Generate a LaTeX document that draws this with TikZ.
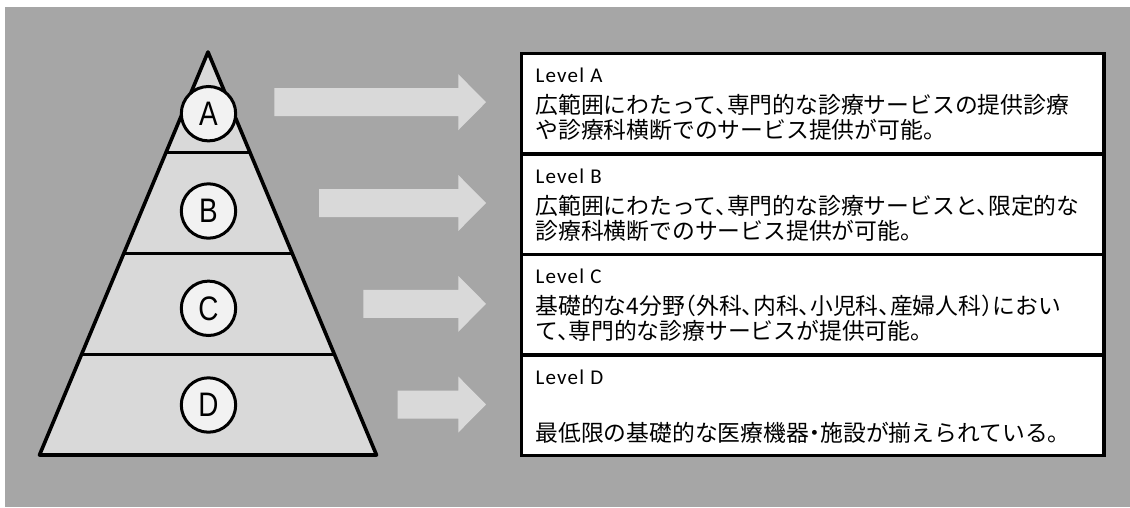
\documentclass[tikz,border=0pt]{standalone}
\usepackage{fontspec}
\setmainfont{Carlito}
\newfontfamily\jpfont[RawFeature=+halt]{Noto Sans CJK JP}
\newfontfamily\lvfont[LetterSpace=6]{Carlito}
\newfontfamily\circfont{Liberation Sans}
\usetikzlibrary{calc}
\definecolor{bggray}{HTML}{A6A6A6}
\definecolor{pyrfill}{HTML}{D9D9D9}
\definecolor{circfill}{HTML}{F2F2F2}
\definecolor{arrowfill}{HTML}{D9D9D9}
\newcommand{\blockarrow}[2]{%
  \fill[arrowfill] (#1,#2-14) -- (458.3,#2-14) -- (458.3,#2-28) -- (486,#2)
    -- (458.3,#2+28) -- (458.3,#2+14) -- (#1,#2+14) -- cycle;}
\begin{document}
\begin{tikzpicture}[x=1pt,y=-1pt,
  lvcirc/.style={circle, draw=black, fill=circfill, line width=3pt,
    minimum size=54.4pt, inner sep=0pt, outer sep=0pt,
    font=\circfont\fontsize{34}{34}\selectfont},
  levelbox/.style={draw=black, fill=white, line width=3.5pt, rectangle,
    minimum width=582.7pt, minimum height=100.5pt, inner sep=0pt,
    outer sep=0pt, anchor=north west},
  lvtext/.style={anchor=base west, inner sep=0pt, font=\lvfont\fontsize{21}{24}\selectfont},
  jptext/.style={anchor=base west, inner sep=0pt, font=\jpfont\fontsize{22.8}{25}\selectfont}]
\useasboundingbox (0,0) rectangle (1130,507);
\fill[white] (0,0) rectangle (1130,507);
\fill[bggray] (5,7) rectangle (1130,507);
% pyramid
\coordinate (apex) at (208,52);
\coordinate (bl) at (39.5,455);
\coordinate (br) at (376.5,455);
\filldraw[fill=pyrfill, draw=black, line width=3.6pt, line join=round]
  (apex) -- (bl) -- (br) -- cycle;
\foreach \f in {0.25,0.5,0.75}
  \draw[line width=3pt] ($(apex)!\f!(bl)$) -- ($(apex)!\f!(br)$);
% circles
\node[lvcirc] (cA) at (208.5,113.7) {\scalebox{0.82}[1]{A}};
\node[lvcirc] (cB) at (208.5,211) {\scalebox{0.82}[1]{B}};
\node[lvcirc] (cC) at (208.5,308.3) {\scalebox{0.82}[1]{C}};
\node[lvcirc] (cD) at (208.5,405) {\scalebox{0.82}[1]{D}};
% arrows
\blockarrow{274.3}{102.2}
\blockarrow{319}{203}
\blockarrow{363.3}{303.8}
\blockarrow{397.7}{404.5}
% boxes
\node[levelbox] (boxA) at (521.3,53.5) {};
\node[levelbox] (boxB) at (521.3,154) {};
\node[levelbox] (boxC) at (521.3,254.5) {};
\node[levelbox] (boxD) at (521.3,355) {};
% texts
\node[lvtext] (lA) at ([xshift=14pt,yshift=-29pt]boxA.north west) {Level A};
\node[jptext] (tA1) at ([xshift=14pt,yshift=-60pt]boxA.north west) {広範囲にわたって、専門的な診療サービスの提供診療};
\node[jptext] (tA2) at ([xshift=14pt,yshift=-85pt]boxA.north west) {や診療科横断でのサービス提供が可能。};
\node[lvtext] (lB) at ([xshift=14pt,yshift=-29pt]boxB.north west) {Level B};
\node[jptext] (tB1) at ([xshift=14pt,yshift=-60pt]boxB.north west) {広範囲にわたって、専門的な診療サービスと、限定的な};
\node[jptext] (tB2) at ([xshift=14pt,yshift=-85pt]boxB.north west) {診療科横断でのサービス提供が可能。};
\node[lvtext] (lC) at ([xshift=14pt,yshift=-29pt]boxC.north west) {Level C};
\node[jptext] (tC1) at ([xshift=14pt,yshift=-60pt]boxC.north west) {基礎的な4分野（外科、内科、小児科、産婦人科）におい};
\node[jptext] (tC2) at ([xshift=14pt,yshift=-85pt]boxC.north west) {て、専門的な診療サービスが提供可能。};
\node[lvtext] (lD) at ([xshift=14pt,yshift=-29pt]boxD.north west) {Level D};
\node[jptext] (tD1) at ([xshift=14pt,yshift=-86pt]boxD.north west) {最低限の基礎的な医療機器・施設が揃えられている。};
\end{tikzpicture}
\end{document}
